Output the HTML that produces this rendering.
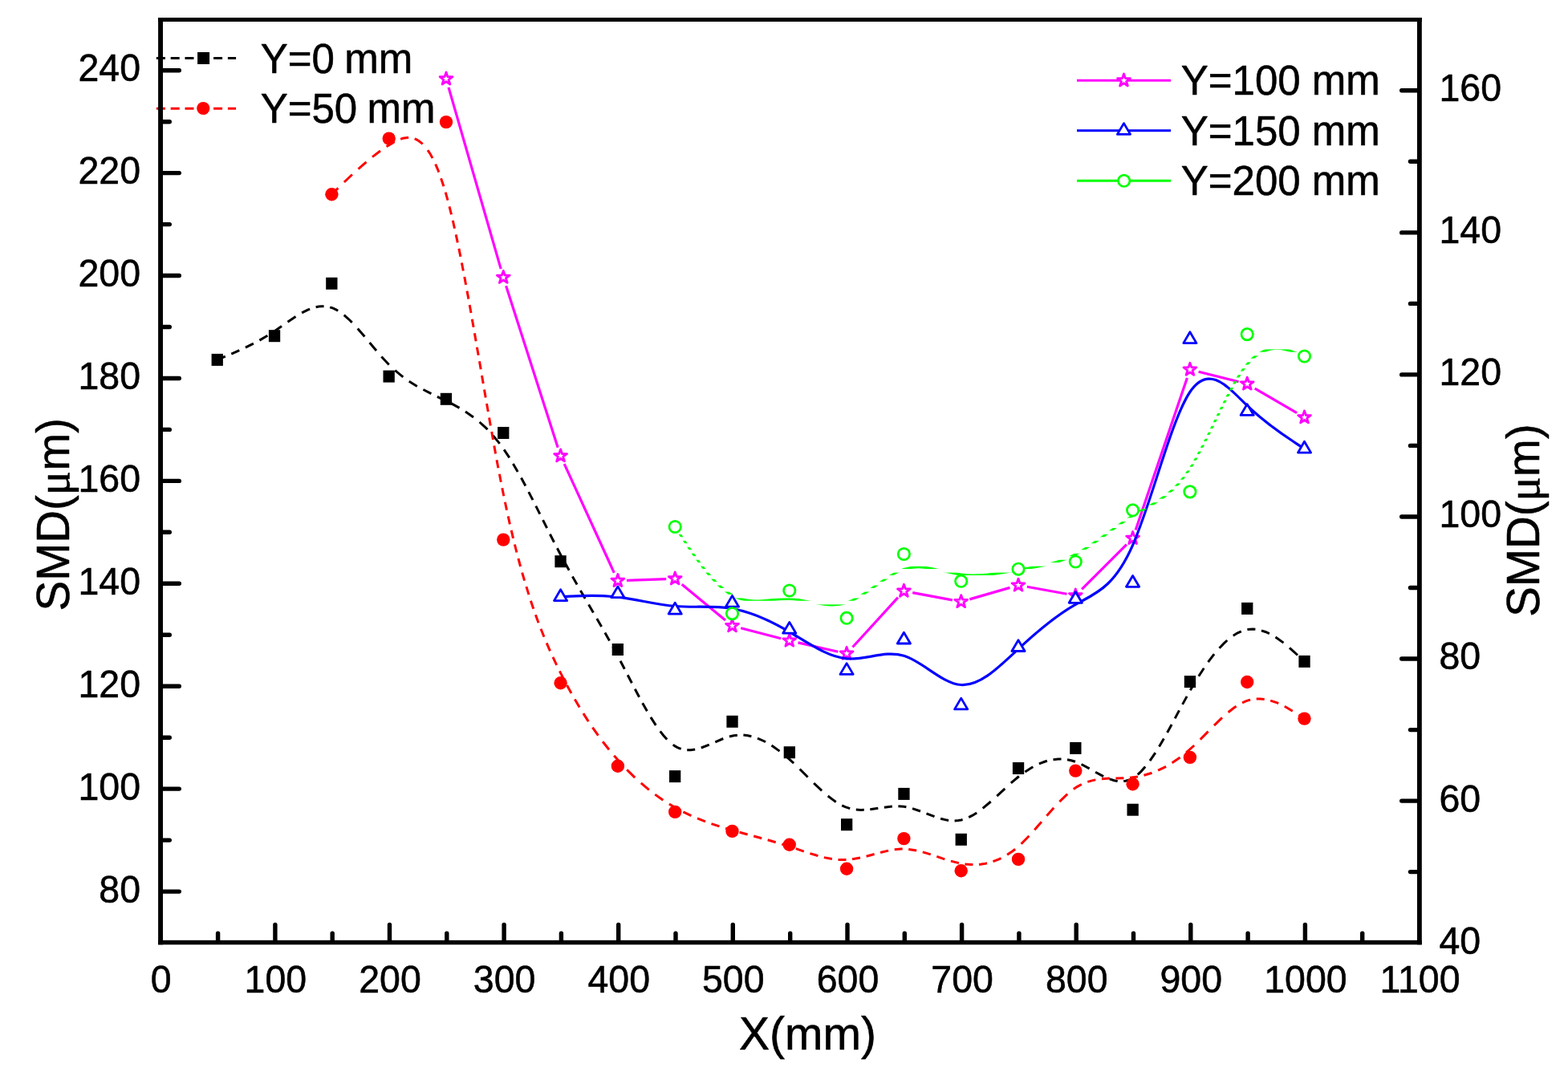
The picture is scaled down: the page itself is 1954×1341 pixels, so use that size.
<!DOCTYPE html>
<html lang="en"><head><meta charset="utf-8"><title>SMD vs X</title>
<style>html,body{margin:0;padding:0;background:#fff}body{width:1954px;height:1341px;overflow:hidden}svg{display:block}text{stroke:#000;stroke-width:.55px;stroke-linejoin:round}</style>
</head><body>
<svg width="1954" height="1341" viewBox="0 0 1954 1341" font-family='"Liberation Sans", sans-serif'>
<rect width="1954" height="1341" fill="#fff"/>
<path d="M270.8,448.4 L280.8,444.2M288.3,441.1 L298.3,436.7M305.9,433.2 L315.9,428.2M323.4,424.1 L333.4,418.3M341.0,413.5 L351.0,406.6M358.5,401.3 L368.5,394.5M376.1,389.9 L383.1,386.4 L386.1,385.1M393.6,382.7 L397.3,382.0 L400.9,381.7 L403.6,381.7M411.2,382.8 L415.1,384.2 L418.7,385.9 L421.2,387.3M428.7,392.7 L434.8,398.0 L438.7,401.9M445.7,409.4 L454.4,419.4M460.6,427.0 L469.0,437.0M475.4,444.5 L484.7,454.5M492.3,461.7 L502.3,469.8M509.8,475.2 L519.8,481.4M527.4,485.5 L537.4,490.6M544.9,494.3 L554.9,499.1M562.5,502.9 L572.5,508.4M580.0,513.0 L590.0,519.9M597.6,526.0 L605.9,533.6 L607.5,535.3M614.5,542.9 L622.7,552.9M628.1,560.4 L634.8,570.4M639.4,578.0 L645.2,588.0M649.5,595.5 L654.9,605.5M658.8,613.1 L664.0,623.1M667.8,630.6 L672.8,640.6M676.6,648.2 L681.6,658.2M685.4,665.7 L690.5,675.7M694.4,683.3 L699.6,693.3M703.7,700.8 L709.2,710.8M713.4,718.4 L719.1,728.4M723.4,735.9 L729.2,745.9M733.6,753.5 L739.4,763.5M743.8,771.0 L749.6,781.0M753.9,788.6 L759.5,798.6M763.7,806.1 L769.1,816.1M773.1,823.7 L778.3,833.7M782.2,841.2 L787.4,851.2M791.3,858.8 L796.6,868.8M800.7,876.3 L806.4,886.3M810.9,893.9 L817.3,903.9M822.7,911.4 L826.9,916.7 L831.2,921.4M838.7,928.1 L841.2,929.9 L844.8,931.8 L848.7,933.4M856.2,934.8 L860.8,934.8 L866.2,934.1M873.8,932.0 L883.8,928.1M891.3,924.8 L901.3,920.5M908.9,918.0 L914.3,916.7 L918.9,916.2M926.4,916.1 L932.1,916.8 L936.4,917.7M944.0,920.1 L951.7,923.5 L954.0,924.6M961.5,929.0 L971.5,936.1M979.1,942.2 L989.1,951.2M996.6,958.5 L1006.6,968.5M1014.1,976.0 L1024.1,985.4M1031.7,992.0 L1039.1,997.6 L1041.7,999.4M1049.2,1003.8 L1053.3,1005.6 L1059.2,1007.6M1066.8,1009.0 L1072.9,1009.4 L1076.8,1009.3M1084.3,1008.7 L1094.3,1007.3M1101.9,1006.2 L1111.9,1005.0M1119.4,1004.8 L1126.4,1005.3 L1129.4,1005.8M1137.0,1007.6 L1147.0,1011.0M1154.5,1013.9 L1164.5,1017.7M1172.1,1020.2 L1179.9,1022.1 L1182.1,1022.4M1189.6,1022.9 L1194.2,1022.6 L1197.7,1022.0 L1199.6,1021.5M1207.2,1018.7 L1212.0,1016.2 L1217.2,1012.9M1224.7,1007.4 L1234.7,999.0M1242.3,992.1 L1252.3,982.8M1259.8,975.9 L1269.8,967.5M1277.4,961.9 L1285.1,957.0 L1287.4,955.7M1294.9,951.9 L1301.1,949.5 L1304.9,948.3M1312.5,946.7 L1318.9,946.0 L1322.5,946.0M1330.0,946.7 L1335.0,947.7 L1340.0,949.3M1347.6,952.5 L1357.6,957.8M1365.1,962.2 L1375.1,967.6M1382.7,970.9 L1388.5,972.7 L1392.7,973.5M1400.2,973.6 L1402.7,973.2 L1406.3,972.3 L1410.2,970.5M1417.8,965.4 L1422.3,961.1 L1427.2,955.6M1433.0,948.1 L1439.8,938.1M1444.5,930.5 L1450.4,920.5M1454.6,913.0 L1460.1,903.0M1464.2,895.4 L1469.5,885.4M1473.6,877.9 L1479.1,867.9M1483.3,860.3 L1489.2,850.3M1493.8,842.8 L1500.3,832.8M1505.5,825.2 L1513.1,815.2M1519.5,807.7 L1525.7,801.3 L1529.3,798.0M1536.8,792.2 L1541.8,789.1 L1546.8,786.8M1554.4,784.6 L1557.8,784.2 L1561.4,784.1 L1564.4,784.3M1571.9,785.8 L1577.0,787.5 L1581.9,789.7M1589.5,794.0 L1599.5,801.1M1607.0,807.4 L1617.0,816.5M1624.6,823.5 L1625.5,824.4" fill="none" stroke="#000" stroke-width="3"/>
<rect x="263.6" y="440.9" width="14.3" height="15" fill="#000"/>
<rect x="334.9" y="411.2" width="14.3" height="15" fill="#000"/>
<rect x="406.2" y="345.8" width="14.3" height="15" fill="#000"/>
<rect x="477.5" y="461.6" width="14.3" height="15" fill="#000"/>
<rect x="548.8" y="489.8" width="14.3" height="15" fill="#000"/>
<rect x="620.1" y="532.0" width="14.3" height="15" fill="#000"/>
<rect x="691.4" y="692.2" width="14.3" height="15" fill="#000"/>
<rect x="762.7" y="802.0" width="14.3" height="15" fill="#000"/>
<rect x="834.0" y="960.1" width="14.3" height="15" fill="#000"/>
<rect x="905.4" y="891.8" width="14.3" height="15" fill="#000"/>
<rect x="976.7" y="930.2" width="14.3" height="15" fill="#000"/>
<rect x="1048.0" y="1020.2" width="14.3" height="15" fill="#000"/>
<rect x="1119.3" y="981.9" width="14.3" height="15" fill="#000"/>
<rect x="1190.6" y="1038.8" width="14.3" height="15" fill="#000"/>
<rect x="1261.9" y="950.0" width="14.3" height="15" fill="#000"/>
<rect x="1333.2" y="924.9" width="14.3" height="15" fill="#000"/>
<rect x="1404.5" y="1001.7" width="14.3" height="15" fill="#000"/>
<rect x="1475.8" y="842.1" width="14.3" height="15" fill="#000"/>
<rect x="1547.1" y="750.9" width="14.3" height="15" fill="#000"/>
<rect x="1618.4" y="816.9" width="14.3" height="15" fill="#000"/>
<path d="M413.4,242.2 L421.4,234.4M428.9,227.0 L438.9,217.5M446.5,210.6 L456.5,201.8M464.0,195.6 L474.0,188.0M481.6,182.8 L490.0,177.6 L491.6,176.7M499.1,173.4 L502.5,172.3 L506.1,171.7 L509.1,171.5M516.7,172.9 L518.5,173.7 L522.1,175.8 L525.7,178.6 L526.7,179.5M533.0,187.1 L536.4,192.3 L539.0,197.1M542.7,204.6 L545.3,210.6 L546.9,214.6M549.6,222.2 L552.9,232.2M555.2,239.7 L558.0,249.7M560.0,257.3 L562.5,267.3M564.3,274.8 L566.5,284.8M568.2,292.4 L570.3,302.4M571.9,309.9 L573.9,319.9M575.4,327.5 L577.3,337.5M578.8,345.0 L580.6,355.0M582.0,362.6 L583.9,372.6M585.2,380.1 L587.0,390.1M588.3,397.7 L590.1,407.7M591.4,415.2 L593.1,425.2M594.4,432.8 L596.2,442.8M597.5,450.3 L599.2,460.3M600.5,467.9 L602.2,477.9M603.5,485.4 L605.2,495.4M606.5,503.0 L608.3,513.0M609.6,520.5 L611.3,530.5M612.7,538.1 L614.5,548.1M615.8,555.6 L617.6,565.6M619.0,573.2 L620.9,583.2M622.4,590.7 L624.3,600.7M625.8,608.3 L627.8,618.3M629.4,625.8 L631.5,635.8M633.2,643.4 L635.4,653.4M637.2,660.9 L639.5,670.9M641.4,678.5 L643.9,688.5M645.9,696.0 L648.6,706.0M650.7,713.6 L653.6,723.6M655.9,731.1 L659.0,741.1M661.4,748.7 L664.8,758.7M667.4,766.2 L671.1,776.2M674.0,783.8 L678.0,793.8M681.2,801.3 L685.5,811.3M689.0,818.9 L693.7,828.9M697.4,836.4 L702.5,846.4M706.5,854.0 L712.0,864.0M716.3,871.5 L722.2,881.5M726.9,889.1 L733.3,899.1M738.4,906.6 L745.5,916.6M751.1,924.2 L759.0,934.2M765.2,941.7 L774.1,951.7M781.2,959.3 L791.2,969.1M798.8,975.9 L808.8,984.3M816.3,990.1 L826.3,997.2M833.9,1002.0 L843.9,1007.9M851.4,1011.9 L861.4,1016.6M869.0,1019.9 L879.0,1023.9M886.5,1026.6 L896.5,1029.9M904.1,1032.2 L914.1,1035.2M921.6,1037.3 L931.6,1040.0M939.2,1042.0 L949.2,1044.7M956.7,1046.8 L966.7,1049.7M974.3,1052.0 L984.3,1055.1M991.8,1057.7 L1001.8,1061.1M1009.4,1063.6 L1019.4,1066.6M1026.9,1068.6 L1036.9,1070.5M1044.5,1071.4 L1054.5,1071.5M1062.0,1070.8 L1072.0,1069.0M1079.6,1067.2 L1089.6,1064.5M1097.1,1062.5 L1107.1,1060.1M1114.7,1058.8 L1122.8,1058.1 L1124.7,1058.1M1132.2,1058.4 L1142.2,1060.0M1149.8,1061.9 L1159.8,1064.9M1167.3,1067.4 L1177.3,1070.8M1184.9,1073.1 L1194.9,1075.6M1202.4,1076.9 L1210.2,1077.6 L1212.4,1077.6M1220.0,1077.4 L1228.0,1076.2 L1230.0,1075.8M1237.5,1073.7 L1244.1,1071.2 L1247.5,1069.6M1255.1,1065.3 L1261.9,1060.7 L1265.1,1058.2M1272.6,1051.7 L1282.4,1041.8M1289.2,1034.2 L1297.9,1024.2M1304.4,1016.7 L1313.2,1006.7M1320.3,999.1 L1330.2,989.6M1337.8,983.5 L1342.1,980.6 L1347.8,977.5M1355.3,974.4 L1361.7,972.6 L1365.3,971.9M1372.9,970.8 L1382.9,970.1M1390.4,969.9 L1400.4,969.7M1408.0,969.3 L1418.0,967.9M1425.5,966.3 L1435.5,963.2M1443.1,960.2 L1453.1,955.3M1460.6,950.8 L1470.6,943.9M1478.2,937.9 L1488.2,929.0M1495.7,921.6 L1505.6,911.6M1513.0,904.1 L1523.0,894.4M1530.6,887.7 L1538.2,881.8 L1540.6,880.2M1548.1,875.8 L1552.5,873.9 L1556.0,872.7 L1558.1,872.1M1565.7,871.0 L1570.2,871.0 L1575.7,871.5M1583.2,873.1 L1591.5,875.9 L1593.2,876.7M1600.8,880.3 L1610.8,886.2M1618.3,891.0 L1625.5,895.6" fill="none" stroke="#f00" stroke-width="3"/>
<circle cx="413.4" cy="242.2" r="8.2" fill="#f00"/>
<circle cx="484.7" cy="172.6" r="8.2" fill="#f00"/>
<circle cx="556.0" cy="152.1" r="8.2" fill="#f00"/>
<circle cx="627.3" cy="672.6" r="8.2" fill="#f00"/>
<circle cx="698.6" cy="851.2" r="8.2" fill="#f00"/>
<circle cx="769.9" cy="954.8" r="8.2" fill="#f00"/>
<circle cx="841.2" cy="1011.9" r="8.2" fill="#f00"/>
<circle cx="912.5" cy="1035.9" r="8.2" fill="#f00"/>
<circle cx="983.8" cy="1052.8" r="8.2" fill="#f00"/>
<circle cx="1055.1" cy="1082.8" r="8.2" fill="#f00"/>
<circle cx="1126.4" cy="1045.1" r="8.2" fill="#f00"/>
<circle cx="1197.7" cy="1085.3" r="8.2" fill="#f00"/>
<circle cx="1269.0" cy="1070.9" r="8.2" fill="#f00"/>
<circle cx="1340.3" cy="960.6" r="8.2" fill="#f00"/>
<circle cx="1411.6" cy="977.2" r="8.2" fill="#f00"/>
<circle cx="1482.9" cy="943.9" r="8.2" fill="#f00"/>
<circle cx="1554.2" cy="850.0" r="8.2" fill="#f00"/>
<circle cx="1625.5" cy="895.6" r="8.2" fill="#f00"/>
<line x1="559.0" y1="108.9" x2="624.2" y2="335.1" stroke="#f0f" stroke-width="3.2"/>
<line x1="630.6" y1="356.2" x2="695.2" y2="557.7" stroke="#f0f" stroke-width="3.2"/>
<line x1="703.2" y1="578.2" x2="765.3" y2="713.8" stroke="#f0f" stroke-width="3.2"/>
<line x1="780.9" y1="723.4" x2="830.2" y2="721.6" stroke="#f0f" stroke-width="3.2"/>
<line x1="849.7" y1="728.2" x2="904.0" y2="773.1" stroke="#f0f" stroke-width="3.2"/>
<line x1="923.2" y1="782.8" x2="973.2" y2="795.8" stroke="#f0f" stroke-width="3.2"/>
<line x1="994.5" y1="800.9" x2="1044.4" y2="812.2" stroke="#f0f" stroke-width="3.2"/>
<line x1="1062.5" y1="806.5" x2="1119.0" y2="744.7" stroke="#f0f" stroke-width="3.2"/>
<line x1="1137.2" y1="738.6" x2="1186.9" y2="747.9" stroke="#f0f" stroke-width="3.2"/>
<line x1="1208.3" y1="746.9" x2="1258.5" y2="732.4" stroke="#f0f" stroke-width="3.2"/>
<line x1="1279.9" y1="731.3" x2="1329.5" y2="740.3" stroke="#f0f" stroke-width="3.2"/>
<line x1="1348.1" y1="734.4" x2="1403.9" y2="678.6" stroke="#f0f" stroke-width="3.2"/>
<line x1="1415.2" y1="660.4" x2="1479.4" y2="471.0" stroke="#f0f" stroke-width="3.2"/>
<line x1="1493.6" y1="463.3" x2="1543.6" y2="475.8" stroke="#f0f" stroke-width="3.2"/>
<line x1="1563.7" y1="484.1" x2="1616.1" y2="514.6" stroke="#f0f" stroke-width="3.2"/>
<polygon points="556.0,90.0 557.9,95.6 563.9,95.7 559.1,99.3 560.9,105.0 556.0,101.6 551.1,105.0 552.8,99.3 548.1,95.7 554.0,95.6" fill="#fff" stroke="#f0f" stroke-width="2.8" stroke-linejoin="round"/>
<polygon points="627.3,337.4 629.2,343.0 635.2,343.1 630.4,346.7 632.2,352.4 627.3,349.0 622.4,352.4 624.1,346.7 619.4,343.1 625.3,343.0" fill="#fff" stroke="#f0f" stroke-width="2.8" stroke-linejoin="round"/>
<polygon points="698.6,559.9 700.5,565.5 706.5,565.6 701.7,569.2 703.5,574.9 698.6,571.5 693.7,574.9 695.4,569.2 690.7,565.6 696.6,565.5" fill="#fff" stroke="#f0f" stroke-width="2.8" stroke-linejoin="round"/>
<polygon points="769.9,715.5 771.8,721.1 777.8,721.2 773.0,724.8 774.8,730.5 769.9,727.1 765.0,730.5 766.8,724.8 762.0,721.2 768.0,721.1" fill="#fff" stroke="#f0f" stroke-width="2.8" stroke-linejoin="round"/>
<polygon points="841.2,712.9 843.1,718.5 849.1,718.6 844.3,722.2 846.1,727.9 841.2,724.5 836.3,727.9 838.1,722.2 833.3,718.6 839.3,718.5" fill="#fff" stroke="#f0f" stroke-width="2.8" stroke-linejoin="round"/>
<polygon points="912.5,771.8 914.4,777.4 920.4,777.5 915.6,781.1 917.4,786.8 912.5,783.4 907.6,786.8 909.4,781.1 904.6,777.5 910.6,777.4" fill="#fff" stroke="#f0f" stroke-width="2.8" stroke-linejoin="round"/>
<polygon points="983.8,790.2 985.7,795.8 991.7,795.9 986.9,799.5 988.7,805.2 983.8,801.8 978.9,805.2 980.7,799.5 975.9,795.9 981.9,795.8" fill="#fff" stroke="#f0f" stroke-width="2.8" stroke-linejoin="round"/>
<polygon points="1055.1,806.3 1057.0,811.9 1063.0,812.0 1058.2,815.6 1060.0,821.3 1055.1,817.9 1050.2,821.3 1052.0,815.6 1047.2,812.0 1053.2,811.9" fill="#fff" stroke="#f0f" stroke-width="2.8" stroke-linejoin="round"/>
<polygon points="1126.4,728.3 1128.4,733.9 1134.3,734.0 1129.6,737.6 1131.3,743.3 1126.4,739.9 1121.5,743.3 1123.3,737.6 1118.5,734.0 1124.5,733.9" fill="#fff" stroke="#f0f" stroke-width="2.8" stroke-linejoin="round"/>
<polygon points="1197.7,741.6 1199.7,747.2 1205.6,747.3 1200.9,750.9 1202.6,756.6 1197.7,753.2 1192.8,756.6 1194.6,750.9 1189.8,747.3 1195.8,747.2" fill="#fff" stroke="#f0f" stroke-width="2.8" stroke-linejoin="round"/>
<polygon points="1269.0,721.1 1271.0,726.7 1276.9,726.8 1272.2,730.4 1273.9,736.1 1269.0,732.7 1264.1,736.1 1265.9,730.4 1261.1,726.8 1267.1,726.7" fill="#fff" stroke="#f0f" stroke-width="2.8" stroke-linejoin="round"/>
<polygon points="1340.3,733.9 1342.3,739.5 1348.2,739.6 1343.5,743.2 1345.2,748.9 1340.3,745.5 1335.5,748.9 1337.2,743.2 1332.4,739.6 1338.4,739.5" fill="#fff" stroke="#f0f" stroke-width="2.8" stroke-linejoin="round"/>
<polygon points="1411.6,662.5 1413.6,668.1 1419.5,668.2 1414.8,671.8 1416.5,677.5 1411.6,674.1 1406.8,677.5 1408.5,671.8 1403.7,668.2 1409.7,668.1" fill="#fff" stroke="#f0f" stroke-width="2.8" stroke-linejoin="round"/>
<polygon points="1482.9,452.3 1484.9,457.9 1490.8,458.0 1486.1,461.6 1487.8,467.3 1482.9,463.9 1478.1,467.3 1479.8,461.6 1475.0,458.0 1481.0,457.9" fill="#fff" stroke="#f0f" stroke-width="2.8" stroke-linejoin="round"/>
<polygon points="1554.2,470.2 1556.2,475.8 1562.1,475.9 1557.4,479.5 1559.1,485.2 1554.2,481.8 1549.4,485.2 1551.1,479.5 1546.4,475.9 1552.3,475.8" fill="#fff" stroke="#f0f" stroke-width="2.8" stroke-linejoin="round"/>
<polygon points="1625.5,511.9 1627.5,517.5 1633.4,517.6 1628.7,521.2 1630.4,526.9 1625.5,523.5 1620.7,526.9 1622.4,521.2 1617.7,517.6 1623.6,517.5" fill="#fff" stroke="#f0f" stroke-width="2.8" stroke-linejoin="round"/>
<path d="M698.6,743.9C698.6,743.9 698.6,743.9 710.5,743.2C722.4,742.6 746.1,741.3 769.9,744.1C793.7,746.8 817.4,753.6 841.2,755.5C865.0,757.4 888.7,754.5 912.5,758.5C936.3,762.5 960.0,773.5 983.8,787.5C1007.6,801.6 1031.3,818.6 1055.1,820.8C1078.9,822.9 1102.6,810.1 1126.4,817.3C1150.2,824.6 1174.0,851.9 1197.7,853.5C1221.5,855.1 1245.3,830.9 1269.0,808.8C1292.8,786.7 1316.6,766.7 1340.3,753.3C1364.1,739.9 1387.9,733.3 1411.6,679.3C1435.4,625.4 1459.2,524.1 1482.9,488.5C1506.7,452.8 1530.5,482.8 1554.2,505.5C1578.0,528.3 1601.8,543.8 1613.7,551.6C1625.5,559.4 1625.5,559.4 1625.5,559.4" fill="none" stroke="#00f" stroke-width="3.2"/>
<polygon points="698.6,734.8 706.7,748.6 690.5,748.6" fill="#fff" stroke="#00f" stroke-width="2.8" stroke-linejoin="round"/>
<polygon points="769.9,730.9 778.0,744.7 761.8,744.7" fill="#fff" stroke="#00f" stroke-width="2.8" stroke-linejoin="round"/>
<polygon points="841.2,751.3 849.3,765.1 833.1,765.1" fill="#fff" stroke="#00f" stroke-width="2.8" stroke-linejoin="round"/>
<polygon points="912.5,742.4 920.6,756.2 904.4,756.2" fill="#fff" stroke="#00f" stroke-width="2.8" stroke-linejoin="round"/>
<polygon points="983.8,775.4 991.9,789.2 975.7,789.2" fill="#fff" stroke="#00f" stroke-width="2.8" stroke-linejoin="round"/>
<polygon points="1055.1,826.6 1063.2,840.4 1047.0,840.4" fill="#fff" stroke="#00f" stroke-width="2.8" stroke-linejoin="round"/>
<polygon points="1126.4,788.2 1134.5,802.0 1118.3,802.0" fill="#fff" stroke="#00f" stroke-width="2.8" stroke-linejoin="round"/>
<polygon points="1197.7,870.1 1205.8,883.9 1189.6,883.9" fill="#fff" stroke="#00f" stroke-width="2.8" stroke-linejoin="round"/>
<polygon points="1269.0,797.7 1277.1,811.5 1260.9,811.5" fill="#fff" stroke="#00f" stroke-width="2.8" stroke-linejoin="round"/>
<polygon points="1340.3,737.5 1348.4,751.3 1332.2,751.3" fill="#fff" stroke="#00f" stroke-width="2.8" stroke-linejoin="round"/>
<polygon points="1411.6,717.5 1419.7,731.3 1403.5,731.3" fill="#fff" stroke="#00f" stroke-width="2.8" stroke-linejoin="round"/>
<polygon points="1482.9,413.8 1491.0,427.6 1474.8,427.6" fill="#fff" stroke="#00f" stroke-width="2.8" stroke-linejoin="round"/>
<polygon points="1554.2,503.6 1562.3,517.4 1546.1,517.4" fill="#fff" stroke="#00f" stroke-width="2.8" stroke-linejoin="round"/>
<polygon points="1625.5,550.3 1633.6,564.1 1617.5,564.1" fill="#fff" stroke="#00f" stroke-width="2.8" stroke-linejoin="round"/>
<clipPath id="gb"><rect x="830" y="403.60" width="810" height="3.3"/><rect x="830" y="411.55" width="810" height="3.3"/><rect x="830" y="419.50" width="810" height="3.3"/><rect x="830" y="427.45" width="810" height="3.3"/><rect x="830" y="435.40" width="810" height="3.3"/><rect x="830" y="443.35" width="810" height="3.3"/><rect x="830" y="451.30" width="810" height="3.3"/><rect x="830" y="459.25" width="810" height="3.3"/><rect x="830" y="467.20" width="810" height="3.3"/><rect x="830" y="475.15" width="810" height="3.3"/><rect x="830" y="483.10" width="810" height="3.3"/><rect x="830" y="491.05" width="810" height="3.3"/><rect x="830" y="499.00" width="810" height="3.3"/><rect x="830" y="506.95" width="810" height="3.3"/><rect x="830" y="514.90" width="810" height="3.3"/><rect x="830" y="522.85" width="810" height="3.3"/><rect x="830" y="530.80" width="810" height="3.3"/><rect x="830" y="538.75" width="810" height="3.3"/><rect x="830" y="546.70" width="810" height="3.3"/><rect x="830" y="554.65" width="810" height="3.3"/><rect x="830" y="562.60" width="810" height="3.3"/><rect x="830" y="570.55" width="810" height="3.3"/><rect x="830" y="578.50" width="810" height="3.3"/><rect x="830" y="586.45" width="810" height="3.3"/><rect x="830" y="594.40" width="810" height="3.3"/><rect x="830" y="602.35" width="810" height="3.3"/><rect x="830" y="610.30" width="810" height="3.3"/><rect x="830" y="618.25" width="810" height="3.3"/><rect x="830" y="626.20" width="810" height="3.3"/><rect x="830" y="634.15" width="810" height="3.3"/><rect x="830" y="642.10" width="810" height="3.3"/><rect x="830" y="650.05" width="810" height="3.3"/><rect x="830" y="658.00" width="810" height="3.3"/><rect x="830" y="665.95" width="810" height="3.3"/><rect x="830" y="673.90" width="810" height="3.3"/><rect x="830" y="681.85" width="810" height="3.3"/><rect x="830" y="689.80" width="810" height="3.3"/><rect x="830" y="697.75" width="810" height="3.3"/><rect x="830" y="705.70" width="810" height="3.3"/><rect x="830" y="713.65" width="810" height="3.3"/><rect x="830" y="721.60" width="810" height="3.3"/><rect x="830" y="729.55" width="810" height="3.3"/><rect x="830" y="737.50" width="810" height="3.3"/><rect x="830" y="745.45" width="810" height="3.3"/><rect x="830" y="753.40" width="810" height="3.3"/><rect x="830" y="761.35" width="810" height="3.3"/><rect x="830" y="769.30" width="810" height="3.3"/><rect x="830" y="777.25" width="810" height="3.3"/></clipPath>
<path d="M841.2,656.5C841.2,656.5 841.2,656.5 853.1,674.5C865.0,692.6 888.7,728.6 912.5,741.9C936.3,755.1 960.0,745.6 983.8,746.5C1007.6,747.4 1031.3,758.9 1055.1,751.3C1078.9,743.7 1102.6,717.1 1126.4,709.4C1150.2,701.8 1174.0,713.0 1197.7,716.1C1221.5,719.3 1245.3,714.2 1269.0,710.2C1292.8,706.1 1316.6,703.1 1340.3,690.8C1364.1,678.6 1387.9,657.2 1411.6,642.7C1435.4,628.2 1459.2,620.5 1482.9,584.0C1506.7,547.5 1530.5,482.0 1554.2,453.9C1578.0,425.7 1601.8,434.9 1613.7,439.4C1625.5,444.0 1625.5,444.0 1625.5,444.0" fill="none" stroke="#0f0" stroke-width="3.1" clip-path="url(#gb)"/>
<circle cx="841.2" cy="656.5" r="7.2" fill="#fff" stroke="#0f0" stroke-width="2.7"/>
<circle cx="912.5" cy="764.7" r="7.2" fill="#fff" stroke="#0f0" stroke-width="2.7"/>
<circle cx="983.8" cy="736.0" r="7.2" fill="#fff" stroke="#0f0" stroke-width="2.7"/>
<circle cx="1055.1" cy="770.3" r="7.2" fill="#fff" stroke="#0f0" stroke-width="2.7"/>
<circle cx="1126.4" cy="690.5" r="7.2" fill="#fff" stroke="#0f0" stroke-width="2.7"/>
<circle cx="1197.7" cy="724.3" r="7.2" fill="#fff" stroke="#0f0" stroke-width="2.7"/>
<circle cx="1269.0" cy="709.2" r="7.2" fill="#fff" stroke="#0f0" stroke-width="2.7"/>
<circle cx="1340.3" cy="700.0" r="7.2" fill="#fff" stroke="#0f0" stroke-width="2.7"/>
<circle cx="1411.6" cy="635.8" r="7.2" fill="#fff" stroke="#0f0" stroke-width="2.7"/>
<circle cx="1482.9" cy="612.9" r="7.2" fill="#fff" stroke="#0f0" stroke-width="2.7"/>
<circle cx="1554.2" cy="416.6" r="7.2" fill="#fff" stroke="#0f0" stroke-width="2.7"/>
<circle cx="1625.5" cy="444.0" r="7.2" fill="#fff" stroke="#0f0" stroke-width="2.7"/>
<line x1="194.9" y1="72.4" x2="294.1" y2="72.4" stroke="#000" stroke-width="3" stroke-dasharray="11 6.8"/>
<rect x="246.1" y="65" width="15" height="15" fill="#000"/>
<line x1="194.9" y1="135.2" x2="294.1" y2="135.2" stroke="#f00" stroke-width="3" stroke-dasharray="11 6.8"/>
<circle cx="253.3" cy="135" r="8.1" fill="#f00"/>
<text x="324.7" y="90.7" font-size="51">Y=0 <tspan dx="-1.8">mm</tspan></text>
<text x="324.7" y="152.6" font-size="51">Y=50 <tspan dx="-1.8">mm</tspan></text>
<line x1="1342" y1="100.2" x2="1459" y2="100.2" stroke="#f0f" stroke-width="3"/>
<text x="1471.8" y="117.9" font-size="51">Y=100 mm</text>
<line x1="1342" y1="162.7" x2="1459" y2="162.7" stroke="#00f" stroke-width="3"/>
<text x="1471.8" y="180.5" font-size="51">Y=150 mm</text>
<line x1="1342" y1="225.2" x2="1459" y2="225.2" stroke="#0f0" stroke-width="3"/>
<text x="1471.8" y="243.1" font-size="51">Y=200 mm</text>
<polygon points="1400.5,92.0 1402.4,97.6 1408.4,97.7 1403.6,101.3 1405.4,107.0 1400.5,103.6 1395.6,107.0 1397.4,101.3 1392.6,97.7 1398.6,97.6" fill="#fff" stroke="#f0f" stroke-width="2.8" stroke-linejoin="round"/>
<polygon points="1400.5,153.6 1408.6,167.4 1392.4,167.4" fill="#fff" stroke="#00f" stroke-width="2.8" stroke-linejoin="round"/>
<circle cx="1400.7" cy="225.3" r="7.2" fill="#fff" stroke="#0f0" stroke-width="2.7"/>
<g fill="#000" stroke="none">
<rect x="197.1" y="22" width="5.9" height="1155.3"/>
<rect x="1766" y="22" width="5.8" height="1155.3"/>
<rect x="197.1" y="22" width="1574.7" height="5"/>
<rect x="197.1" y="1171.8" width="1574.7" height="5.5"/>
</g>
<g stroke="#000" stroke-width="5.4" stroke-linecap="round" fill="none">
<line x1="201" y1="1111.1" x2="223.3" y2="1111.1"/>
<line x1="201" y1="983.1" x2="223.3" y2="983.1"/>
<line x1="201" y1="855.2" x2="223.3" y2="855.2"/>
<line x1="201" y1="727.3" x2="223.3" y2="727.3"/>
<line x1="201" y1="599.4" x2="223.3" y2="599.4"/>
<line x1="201" y1="471.5" x2="223.3" y2="471.5"/>
<line x1="201" y1="343.5" x2="223.3" y2="343.5"/>
<line x1="201" y1="215.6" x2="223.3" y2="215.6"/>
<line x1="201" y1="87.7" x2="223.3" y2="87.7"/>
<line x1="201" y1="1047.1" x2="211.3" y2="1047.1"/>
<line x1="201" y1="919.2" x2="211.3" y2="919.2"/>
<line x1="201" y1="791.3" x2="211.3" y2="791.3"/>
<line x1="201" y1="663.3" x2="211.3" y2="663.3"/>
<line x1="201" y1="535.4" x2="211.3" y2="535.4"/>
<line x1="201" y1="407.5" x2="211.3" y2="407.5"/>
<line x1="201" y1="279.6" x2="211.3" y2="279.6"/>
<line x1="201" y1="151.7" x2="211.3" y2="151.7"/>
<line x1="1768" y1="998.1" x2="1746.7" y2="998.1"/>
<line x1="1768" y1="821.0" x2="1746.7" y2="821.0"/>
<line x1="1768" y1="644.0" x2="1746.7" y2="644.0"/>
<line x1="1768" y1="466.9" x2="1746.7" y2="466.9"/>
<line x1="1768" y1="289.9" x2="1746.7" y2="289.9"/>
<line x1="1768" y1="112.8" x2="1746.7" y2="112.8"/>
<line x1="1768" y1="1086.6" x2="1757.5" y2="1086.6"/>
<line x1="1768" y1="909.6" x2="1757.5" y2="909.6"/>
<line x1="1768" y1="732.5" x2="1757.5" y2="732.5"/>
<line x1="1768" y1="555.4" x2="1757.5" y2="555.4"/>
<line x1="1768" y1="378.4" x2="1757.5" y2="378.4"/>
<line x1="1768" y1="201.3" x2="1757.5" y2="201.3"/>
<line x1="342.9" y1="1174" x2="342.9" y2="1152.4"/>
<line x1="485.5" y1="1174" x2="485.5" y2="1152.4"/>
<line x1="628.1" y1="1174" x2="628.1" y2="1152.4"/>
<line x1="770.7" y1="1174" x2="770.7" y2="1152.4"/>
<line x1="913.3" y1="1174" x2="913.3" y2="1152.4"/>
<line x1="1056.0" y1="1174" x2="1056.0" y2="1152.4"/>
<line x1="1198.6" y1="1174" x2="1198.6" y2="1152.4"/>
<line x1="1341.2" y1="1174" x2="1341.2" y2="1152.4"/>
<line x1="1483.8" y1="1174" x2="1483.8" y2="1152.4"/>
<line x1="1626.4" y1="1174" x2="1626.4" y2="1152.4"/>
<line x1="271.6" y1="1174" x2="271.6" y2="1163.2"/>
<line x1="414.2" y1="1174" x2="414.2" y2="1163.2"/>
<line x1="556.8" y1="1174" x2="556.8" y2="1163.2"/>
<line x1="699.4" y1="1174" x2="699.4" y2="1163.2"/>
<line x1="842.0" y1="1174" x2="842.0" y2="1163.2"/>
<line x1="984.7" y1="1174" x2="984.7" y2="1163.2"/>
<line x1="1127.3" y1="1174" x2="1127.3" y2="1163.2"/>
<line x1="1269.9" y1="1174" x2="1269.9" y2="1163.2"/>
<line x1="1412.5" y1="1174" x2="1412.5" y2="1163.2"/>
<line x1="1555.1" y1="1174" x2="1555.1" y2="1163.2"/>
<line x1="1697.7" y1="1174" x2="1697.7" y2="1163.2"/>
</g>
<g font-size="46.5" fill="#000">
<text transform="translate(175,1124.5) scale(1,1.035)" text-anchor="end">80</text>
<text transform="translate(175,996.5) scale(1,1.035)" text-anchor="end">100</text>
<text transform="translate(175,868.6) scale(1,1.035)" text-anchor="end">120</text>
<text transform="translate(175,740.7) scale(1,1.035)" text-anchor="end">140</text>
<text transform="translate(175,612.8) scale(1,1.035)" text-anchor="end">160</text>
<text transform="translate(175,484.9) scale(1,1.035)" text-anchor="end">180</text>
<text transform="translate(175,356.9) scale(1,1.035)" text-anchor="end">200</text>
<text transform="translate(175,229.0) scale(1,1.035)" text-anchor="end">220</text>
<text transform="translate(175,101.1) scale(1,1.035)" text-anchor="end">240</text>
<text transform="translate(1793.5,1188.6) scale(1,1.035)">40</text>
<text transform="translate(1793.5,1011.5) scale(1,1.035)">60</text>
<text transform="translate(1793.5,834.4) scale(1,1.035)">80</text>
<text transform="translate(1793.5,657.4) scale(1,1.035)">100</text>
<text transform="translate(1793.5,480.3) scale(1,1.035)">120</text>
<text transform="translate(1793.5,303.3) scale(1,1.035)">140</text>
<text transform="translate(1793.5,126.2) scale(1,1.035)">160</text>
<text transform="translate(200.8,1237.3) scale(1,1.035)" text-anchor="middle">0</text>
<text transform="translate(343.4,1237.3) scale(1,1.035)" text-anchor="middle">100</text>
<text transform="translate(486.0,1237.3) scale(1,1.035)" text-anchor="middle">200</text>
<text transform="translate(628.6,1237.3) scale(1,1.035)" text-anchor="middle">300</text>
<text transform="translate(771.2,1237.3) scale(1,1.035)" text-anchor="middle">400</text>
<text transform="translate(913.8,1237.3) scale(1,1.035)" text-anchor="middle">500</text>
<text transform="translate(1056.5,1237.3) scale(1,1.035)" text-anchor="middle">600</text>
<text transform="translate(1199.1,1237.3) scale(1,1.035)" text-anchor="middle">700</text>
<text transform="translate(1341.7,1237.3) scale(1,1.035)" text-anchor="middle">800</text>
<text transform="translate(1484.3,1237.3) scale(1,1.035)" text-anchor="middle">900</text>
<text transform="translate(1626.9,1237.3) scale(1,1.035)" text-anchor="middle">1000</text>
<text transform="translate(1769.5,1237.3) scale(1,1.035)" text-anchor="middle">1100</text>
</g>
<text x="921" y="1307.8" font-size="57">X(mm)</text>
<text transform="translate(86.4,761.5) rotate(-90)" font-size="56.5">SMD(<tspan font-family='"Liberation Serif", serif'>μ</tspan>m)</text>
<text transform="translate(1917.9,768.8) rotate(-90)" font-size="56.5">SMD(<tspan font-family='"Liberation Serif", serif'>μ</tspan>m)</text>
</svg>
</body></html>
